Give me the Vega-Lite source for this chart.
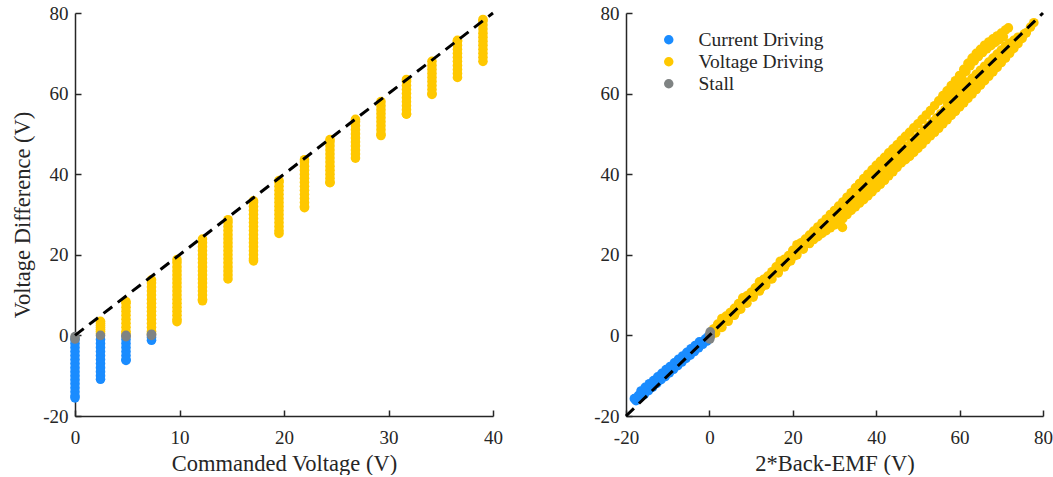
{
  "$schema": "https://vega.github.io/schema/vega-lite/v6.json",
  "background": "white",
  "padding": {"left": 11, "top": 4, "right": 0, "bottom": 0},
  "spacing": 90,
  "config": {
    "font": "Liberation Serif",
    "view": {"stroke": null},
    "axis": {
      "grid": false,
      "domainColor": "#262626",
      "domainWidth": 1.5,
      "tickColor": "#262626",
      "tickWidth": 1.5,
      "tickSize": -6,
      "labelFont": "Liberation Serif",
      "labelFontSize": 19,
      "labelColor": "#262626",
      "labelFlush": false,
      "labelExpr": "datum.value < 0 ? '-' + abs(datum.value) : datum.label",
      "titleFont": "Liberation Serif",
      "titleFontSize": 22.5,
      "titleFontWeight": "normal",
      "titleColor": "#262626"
    },
    "axisX": {"labelPadding": 18, "titlePadding": 5},
    "axisY": {"labelPadding": 13, "titlePadding": 8}
  },
  "resolve": {"scale": {"color": "independent"}, "legend": {"color": "independent"}},
  "datasets": {
    "left": [
      {"x": 0, "m": "Current Driving", "y": [-1,-2,-3,-4,-5,-6,-7,-8,-9,-10,-11,-12,-13,-14,-15,-15.5]},
      {"x": 2.44, "m": "Current Driving", "y": [-1,-2,-3,-4,-5,-6,-7,-8,-9,-10,-10.9]},
      {"x": 4.88, "m": "Current Driving", "y": [-1,-2,-3,-4,-5,-6,-6.2]},
      {"x": 7.32, "m": "Current Driving", "y": [-0.5,-1.2]},
      {"x": 2.44, "m": "Voltage Driving", "y": [0.5,1,1.5,2,2.5,3,3.5]},
      {"x": 4.88, "m": "Voltage Driving", "y": [0.5,1,2,3,4,5,6,7,8,8.4]},
      {"x": 7.32, "m": "Voltage Driving", "y": [0.5,1,2,3,4,5,6,7,8,9,10,11,12,13,13.8]},
      {"x": 9.76, "m": "Voltage Driving", "y": [3.4,4,5,6,7,8,9,10,11,12,13,14,15,16,17,18,18.8]},
      {"x": 12.2, "m": "Voltage Driving", "y": [8.6,9,10,11,12,13,14,15,16,17,18,19,20,21,22,23,23.9]},
      {"x": 14.64, "m": "Voltage Driving", "y": [14,15,16,17,18,19,20,21,22,23,24,25,26,27,28,28.7]},
      {"x": 17.08, "m": "Voltage Driving", "y": [18.5,19,20,21,22,23,24,25,26,27,28,29,30,31,32,33,33.4]},
      {"x": 19.52, "m": "Voltage Driving", "y": [25.3,26,27,28,29,30,31,32,33,34,35,36,37,38,38.4]},
      {"x": 21.96, "m": "Voltage Driving", "y": [31.7,32,33,34,35,36,37,38,39,40,41,42,43,43.6]},
      {"x": 24.4, "m": "Voltage Driving", "y": [37.9,38,39,40,41,42,43,44,45,46,47,48,48.6]},
      {"x": 26.84, "m": "Voltage Driving", "y": [44,45,46,47,48,49,50,51,52,53,53.6]},
      {"x": 29.28, "m": "Voltage Driving", "y": [49.6,50,51,52,53,54,55,56,57,58]},
      {"x": 31.72, "m": "Voltage Driving", "y": [54.9,55,56,57,58,59,60,61,62,63,63.5]},
      {"x": 34.16, "m": "Voltage Driving", "y": [59.8,60,61,62,63,64,65,66,67,68]},
      {"x": 36.6, "m": "Voltage Driving", "y": [64,65,66,67,68,69,70,71,72,73,73.2]},
      {"x": 39.04, "m": "Voltage Driving", "y": [68,69,70,71,72,73,74,75,76,77,78,78.4]},
      {"x": 0, "m": "Stall", "y": [-0.3,-0.9]},
      {"x": 2.44, "m": "Stall", "y": [0]},
      {"x": 4.88, "m": "Stall", "y": [0,-0.3]},
      {"x": 7.32, "m": "Stall", "y": [0,0.3]}
    ],
    "right": [
      {"m": "Current Driving", "x": [-18,-17,-16,-15,-14,-13,-12,-11,-10,-9,-8,-7,-6,-5,-4,-3,-2,-1,-0.3], "y": [-15.7,-14.9,-14.1,-13.2,-12.3,-11.4,-10.5,-9.7,-8.8,-7.9,-7.0,-6.1,-5.2,-4.4,-3.5,-2.6,-1.7,-0.9,-0.3]},
      {"m": "Current Driving", "x": [-17.6,-16.6,-15.6,-14.6,-13.6,-12.6,-11.6,-10.6,-9.6,-8.6,-7.6,-6.6,-5.6,-4.6,-3.6,-2.6,-1.6,-0.6], "y": [-16.2,-15.4,-14.6,-13.7,-12.8,-11.9,-11.0,-10.2,-9.3,-8.4,-7.5,-6.6,-5.7,-4.9,-4.0,-3.1,-2.2,-1.4]},
      {"m": "Current Driving", "x": [-16.4,-15.4,-14.4,-13.4,-12.4,-11.4,-10.4,-9.4,-8.4,-7.4,-6.4,-5.4,-4.4,-3.4,-2.4], "y": [-13.8,-12.9,-12.0,-11.2,-10.3,-9.4,-8.5,-7.7,-6.8,-5.9,-5.1,-4.2,-3.3,-2.5,-1.6]},
      {"m": "Voltage Driving", "x": [0.5,1.5,2.5,3.5,4.5,5.5,6.5,7.5,8.5,9.5,10.5,11.5,12.5,13.5,14.5,15.5,16.5,17.5,18.5,19.5,20.5,21.5,22.5,23.5,24.5,25.5,26.5,27.5,28.5,29.5,30.5,31.5,32.5,33.5,34.5,35.5,36.5,37.5,38.5,39.5,40.5,41.5,42.5,43.5,44.5,45.5,46.5,47.5,48.5,49.5,50.5,51.5,52.5,53.5,54.5,55.5,56.5,57.5,58.5,59.5,60.5,61.5,62.5,63.5,64.5,65.5,66.5,67.5,68.5,69.5,70.5,71.5,72.5,73.5,74.5,75.5], "y": [0.8,1.8,2.8,3.8,4.8,5.8,6.8,7.8,8.8,9.8,10.8,11.8,12.8,13.8,14.8,15.8,16.8,17.8,18.8,19.8,20.8,21.8,22.8,23.8,24.5,25.2,26.2,27.2,28.2,29.2,30.2,31.2,32.2,33.2,34.2,35.2,36.2,37.2,38.2,39.2,40.2,41.2,42.2,43.2,44.2,45.2,46.0,47.0,48.0,49.0,50.0,51.0,52.0,53.0,54.0,55.0,56.0,57.0,58.0,59.0,60.0,60.8,61.8,62.8,63.8,64.8,65.8,66.8,67.8,68.8,69.8,70.8,71.8,72.8,73.8,74.8]},
      {"m": "Voltage Driving", "x": [1,2,3,4,5,6,7,8,9,10,11,12,13,14,15,16,17,18,19,20,21,22,23,24,25,26,27,28,29,30,31,32,33,34,35,36,37,38,39,40,41,42,43,44,45,46,47,48,49,50,51,52,53,54,55,56,57,58,59,60,61,62,63,64,65,66,67,68,69,70,71,71.7], "y": [1.6,2.8,4.2,4.8,5.7,6.7,7.9,9.3,9.8,10.7,11.8,13.3,13.9,14.7,15.8,17.0,18.4,18.9,19.8,21.1,22.5,23.0,23.9,24.9,25.9,26.9,27.9,28.9,30.0,31.0,32.1,33.1,34.3,35.4,36.6,37.7,38.9,40.0,41.1,42.2,43.2,44.2,45.3,46.3,47.3,48.4,49.4,50.4,51.5,52.5,53.6,54.7,55.8,57.0,58.2,59.5,60.7,62.0,63.2,64.5,66.0,67.5,68.8,70.0,71.0,72.0,72.8,73.6,74.3,75.0,75.8,76.3]},
      {"m": "Voltage Driving", "x": [56.5,57.5,58.5,59.5,60.5,61.5,62.5,63.5,64.5,65.5,66.5,67.5,68.5,69.5,70.5], "y": [58.8,60.1,61.3,62.6,64.0,65.5,66.9,68.1,69.2,70.2,71.1,71.9,72.7,73.4,74.1]},
      {"m": "Voltage Driving", "x": [57,58,59,60,61,62,63,64,65,66,67,68,69,70,71,72,73,74], "y": [57.8,58.8,59.8,60.8,61.8,62.8,63.8,64.8,65.8,66.8,67.8,68.8,69.8,70.8,71.8,72.5,73.2,74.0]},
      {"m": "Voltage Driving", "x": [24.5,25.5,26.5,27.5,28.5,29.5,30.5,31.5,32.5,33.5,34.5,35.5,36.5,37.5,38.5,39.5,40.5,41.5,42.5,43.5,44.5,45.5,46.5,47.5,48.5,49.5,50.5,51.5,52.5,53.5,54.5,55.5,56.5,57.5,58.5,59.5,60.5,61.5,62.5,63.5,64.5,65.5,66.5,67.5,68.5,69.5,70.5,71.5,72.5,73.5,74.5], "y": [23.8,24.6,25.4,26.3,27.1,27.9,28.8,29.7,30.7,31.7,32.7,33.7,34.7,35.7,36.7,37.7,38.7,39.7,40.7,41.7,42.7,43.7,44.6,45.6,46.6,47.6,48.6,49.6,50.6,51.6,52.6,53.6,54.6,55.6,56.6,57.6,58.6,59.6,60.6,61.7,62.7,63.8,64.8,65.9,67.0,68.1,69.2,70.3,71.4,72.5,73.6]},
      {"m": "Voltage Driving", "x": [0.5,2.5,4.5,6.5,8.5,10.5,12.5,14.5,16.5,18.5,20.5,22.5], "y": [0.2,2.1,4.1,6.1,8.1,10.1,12.0,14.0,15.9,17.9,19.8,21.7]},
      {"m": "Voltage Driving", "x": [1.5,3,4.5,6,7.5,9,10.5,12,13.5,15,16.5,18,19.5,21,22.5,24], "y": [0.6,2.0,3.5,5.0,6.5,8.0,9.5,11.0,12.5,14.0,15.5,17.0,18.5,20.0,21.4,22.8]},
      {"m": "Voltage Driving", "x": [24,25,26,27,28,29,30,31,32,33,34,35,36,37,38,39,40,41,42,43,44,45,46,47,48,49,50,51,52,53,54,55,56,57,58,59,60,61,62,63,64,65,66,67,68,69,70,71,72,73,74,75,76,77,77.8], "y": [23.0,23.8,24.5,25.3,26.0,26.7,27.4,28.2,29.0,30.0,31.0,31.9,32.8,33.7,34.6,35.6,36.6,37.5,38.5,39.6,40.6,41.7,42.8,43.6,44.4,45.4,46.4,47.4,48.5,49.5,50.4,51.4,52.5,53.5,54.6,55.6,56.7,57.7,58.8,59.9,61.0,62.1,63.2,64.3,65.4,66.5,67.7,68.8,70.0,71.2,72.4,73.7,75.1,76.5,77.6]},
      {"m": "Voltage Driving", "x": [31.9], "y": [26.8]},
      {"m": "Stall", "x": [0.1,0.2,0.1,0.2], "y": [-0.9,-0.3,0.3,0.9]}
    ]
  },
  "hconcat": [
    {
      "width": 418,
      "height": 403,
      "layer": [
        {
          "data": {"name": "left"},
          "transform": [{"flatten": ["y"]}],
          "mark": {"type": "circle", "size": 92, "opacity": 1},
          "encoding": {
            "x": {"field": "x", "type": "quantitative", "scale": {"domain": [0, 40], "nice": false, "zero": false}, "axis": {"title": "Commanded Voltage (V)", "values": [0, 10, 20, 30, 40]}},
            "y": {"field": "y", "type": "quantitative", "scale": {"domain": [-20, 80], "nice": false, "zero": false}, "axis": {"title": "Voltage Difference (V)", "values": [-20, 0, 20, 40, 60, 80]}},
            "color": {"field": "m", "type": "nominal", "scale": {"domain": ["Current Driving", "Voltage Driving", "Stall"], "range": ["#1A8CFF", "#FFC800", "#7F8383"]}, "legend": null}
          }
        },
        {
          "data": {"values": [{"x": 0, "y": 0}, {"x": 40, "y": 80}]},
          "mark": {"type": "line", "color": "black", "strokeWidth": 3, "strokeDash": [11, 7]},
          "encoding": {
            "x": {"field": "x", "type": "quantitative"},
            "y": {"field": "y", "type": "quantitative"}
          }
        }
      ]
    },
    {
      "width": 417,
      "height": 403,
      "layer": [
        {
          "data": {"name": "right"},
          "transform": [{"flatten": ["x", "y"]}],
          "mark": {"type": "circle", "size": 92, "opacity": 1},
          "encoding": {
            "x": {"field": "x", "type": "quantitative", "scale": {"domain": [-20, 80], "nice": false, "zero": false}, "axis": {"title": "2*Back-EMF (V)", "values": [-20, 0, 20, 40, 60, 80]}},
            "y": {"field": "y", "type": "quantitative", "scale": {"domain": [-20, 80], "nice": false, "zero": false}, "axis": {"title": null, "values": [-20, 0, 20, 40, 60, 80]}},
            "color": {"field": "m", "type": "nominal", "scale": {"domain": ["Current Driving", "Voltage Driving", "Stall"], "range": ["#1A8CFF", "#FFC800", "#7F8383"]},
              "legend": {"orient": "none", "legendX": 33, "legendY": 17, "title": null, "symbolType": "circle", "symbolSize": 90, "symbolStrokeWidth": 0, "labelFont": "Liberation Serif", "labelFontSize": 19.5, "labelColor": "#262626", "labelOffset": 20, "rowPadding": 1}}
          }
        },
        {
          "data": {"values": [{"x": -20, "y": -20}, {"x": 80, "y": 80}]},
          "mark": {"type": "line", "color": "black", "strokeWidth": 3, "strokeDash": [11, 7]},
          "encoding": {
            "x": {"field": "x", "type": "quantitative"},
            "y": {"field": "y", "type": "quantitative"}
          }
        }
      ]
    }
  ]
}
